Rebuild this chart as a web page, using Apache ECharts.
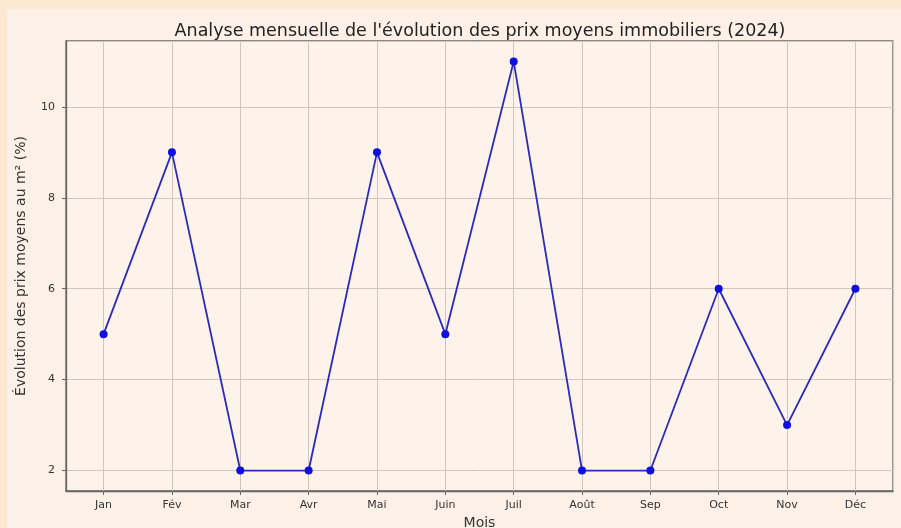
<!DOCTYPE html>
<html>
<head>
<meta charset="utf-8">
<script src="https://cdn.jsdelivr.net/npm/echarts@6/dist/echarts.min.js"></script>
<style>
  html, body { margin: 0; padding: 0; background: #fde8d4; }
  #chart { width: 901px; height: 528px; }
</style>
</head>
<body>
<div id="chart"></div>
<script>
// données
const mois = ['Jan', 'Fév', 'Mar', 'Avr', 'Mai', 'Juin', 'Juil', 'Août', 'Sep', 'Oct', 'Nov', 'Déc']
const evolution = [5, 9, 2, 2, 9, 5, 11, 2, 2, 6, 3, 6]

const chart = echarts.init(document.getElementById('chart'))

const points = evolution.map((v, i) => [i, v])

chart.setOption({
  backgroundColor: '#fde8d4',
  animation: false,
  graphic: [
    {
      type: 'rect',
      z: -10,
      shape: { x: 7, y: 9, width: 894, height: 519 },
      style: { fill: '#fdf1e7' }
    }
  ],
  title: {
    text: "Analyse mensuelle de l'évolution des prix moyens immobiliers (2024)",
    left: 475,
    top: 17,
    textAlign: 'center',
    textStyle: {
      fontFamily: 'DejaVu Sans',
      fontSize: 17.5,
      fontWeight: 'normal',
      color: '#222'
    }
  },
  grid: {
    left: 66,
    right: 8,
    top: 41,
    bottom: 37,
    outerBoundsMode: 'none',
    containLabel: false,
    show: true,
    backgroundColor: '#fdf3ea',
    borderColor: '#666',
    borderWidth: 1.3
  },
  xAxis: {
    type: 'value',
    min: -0.55,
    max: 11.55,
    splitNumber: 12,
    name: 'Mois',
    nameLocation: 'middle',
    nameGap: 25,
    nameTextStyle: { fontFamily: 'DejaVu Sans', fontSize: 14, color: '#333' },
    axisLine: { show: true, onZero: false, lineStyle: { color: '#666', width: 1.3 } },
    axisTick: { show: true, length: 4, lineStyle: { color: '#666' } },
    axisLabel: {
      showMinLabel: false,
      showMaxLabel: false,
      fontFamily: 'DejaVu Sans',
      fontSize: 11,
      color: '#333',
      margin: 9,
      formatter: v => Number.isInteger(v) ? (mois[v] || '') : ''
    },
    splitLine: { show: true, lineStyle: { color: '#cfc6bd', width: 1 } }
  },
  yAxis: {
    type: 'value',
    min: 1.55,
    max: 11.45,
    splitNumber: 5,
    name: 'Évolution des prix moyens au m² (%)',
    nameLocation: 'middle',
    nameGap: 38,
    nameTextStyle: { fontFamily: 'DejaVu Sans', fontSize: 14, color: '#333' },
    axisLine: { show: true, onZero: false, lineStyle: { color: '#666', width: 1.3 } },
    axisTick: { show: true, length: 4, lineStyle: { color: '#666' } },
    axisLabel: {
      showMinLabel: false,
      showMaxLabel: false,
      fontFamily: 'DejaVu Sans',
      fontSize: 11,
      color: '#333',
      margin: 11
    },
    splitLine: { show: true, lineStyle: { color: '#cfc6bd', width: 1 } }
  },
  series: [
    {
      type: 'line',
      data: points,
      symbol: 'circle',
      symbolSize: 8,
      lineStyle: { color: '#2a2abf', width: 1.8 },
      itemStyle: { color: '#0f0fe0' }
    }
  ]
})
</script>
</body>
</html>
